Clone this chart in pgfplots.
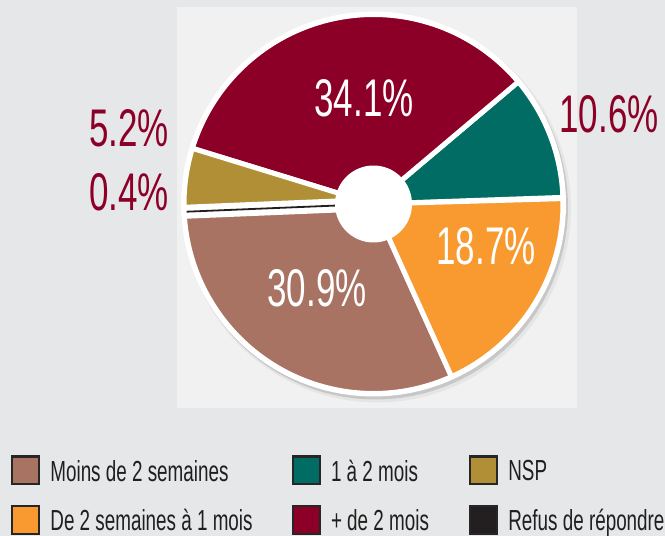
\documentclass[border=0pt]{standalone}
\usepackage{pgfplots}
\pgfplotsset{compat=1.18}
\usepackage{pgfplotstable}
\usepackage{fontspec}
\setmainfont{Liberation Sans}
\newfontfamily\numfont{Liberation Sans}[FakeStretch=0.66]
\newfontfamily\legfont{Liberation Sans}[FakeStretch=0.65]

\definecolor{cbg}{HTML}{E6E7E8}
\definecolor{cpanel}{HTML}{F1F1F2}
\definecolor{cbrown}{HTML}{A87363}
\definecolor{corange}{HTML}{F89A2F}
\definecolor{cteal}{HTML}{006C63}
\definecolor{cred}{HTML}{8C0028}
\definecolor{cgold}{HTML}{B08F36}
\definecolor{cblack}{HTML}{231F20}

% shares in percent, counter-clockwise from the right
\pgfplotstableread[col sep=comma]{
name,value,col
1 à 2 mois,10.6,cteal
+ de 2 mois,34.1,cred
NSP,5.2,cgold
Refus de répondre,0.4,cblack
Moins de 2 semaines,30.9,cbrown
De 2 semaines à 1 mois,18.7,corange
}\piedata

\def\cx{373.5}
\def\cy{332}
\def\pieoff{2}

\begin{document}
\begin{tikzpicture}
\begin{axis}[
  scale only axis, width=665pt, height=536pt,
  xmin=0, xmax=665, ymin=0, ymax=536,
  hide axis, clip=false,
  legend image code/.code={\draw[#1, draw=black!85, line width=2.4pt] (1.2pt,-13.8pt) rectangle (28.2pt,13.8pt);},
  legend columns=3,
  legend cell align=left,
  legend style={draw=none, fill=none, at={(axis cs:11,80.5)}, anchor=north west,
    inner sep=0pt, outer sep=0pt, row sep=19.5pt, column sep=0pt,
    nodes={inner sep=0pt, text depth=0pt, font=\legfont\fontsize{29}{31}\selectfont, text=black!88},
    /tikz/every odd column/.style={column sep=10pt},
    /tikz/column 2/.style={column sep=39pt},
    /tikz/column 4/.style={column sep=40pt}},
]
% backgrounds
\fill[cbg] (axis cs:0,0) rectangle (axis cs:665,536);
\fill[cpanel] (axis cs:177,128) rectangle (axis cs:577,529);

% shadow and white rim
\addplot[forget plot, fill=black!10, draw=none, domain=0:360, samples=120] ({\cx+3.5+194*cos(x)},{\cy-4.5+194*sin(x)}) -- cycle;
\addplot[forget plot, fill=black!22, draw=none, domain=0:360, samples=120] ({\cx+2+192.5*cos(x)},{\cy-3+192.5*sin(x)}) -- cycle;
\addplot[forget plot, fill=white, draw=none, domain=0:360, samples=120] ({\cx+192.5*cos(x)},{\cy+192.5*sin(x)}) -- cycle;

% slices
\def\cum{0}
\pgfplotsforeachungrouped \i in {0,...,5}{%
  \pgfplotstablegetelem{\i}{value}\of\piedata
  \pgfmathsetmacro\va{\pieoff+3.6*\cum}%
  \pgfmathsetmacro\cum{\cum+\pgfplotsretval}%
  \pgfmathsetmacro\vb{\pieoff+3.6*\cum}%
  \ifnum\i=3 \pgfmathsetmacro\blackmid{(\va+\vb)/2}\global\let\blackmid\blackmid\fi
  \pgfplotstablegetelem{\i}{col}\of\piedata
  \edef\doslice{\noexpand\addplot[forget plot, fill=\pgfplotsretval, draw=white, line width=5pt, line join=round, domain=\va:\vb, samples=80] ({\cx+189.5*cos(x)},{\cy+189.5*sin(x)}) -- (axis cs:\cx,\cy) -- cycle;}%
  \doslice
}
% the very thin slice (0.4 %) drawn as a line in a white gap
\pgfmathsetmacro\lxa{\cx+189*cos(\blackmid)}
\pgfmathsetmacro\lya{\cy+189*sin(\blackmid)}
\pgfmathsetmacro\lxb{\cx+187*cos(\blackmid)}
\pgfmathsetmacro\lyb{\cy+187*sin(\blackmid)}
\edef\doline{\noexpand\addplot[forget plot, white, line width=14pt] coordinates {(\cx,\cy) (\lxa,\lya)};
\noexpand\addplot[forget plot, cblack, line width=1.8pt] coordinates {(\cx,\cy) (\lxb,\lyb)};}
\doline

% centre hole
\addplot[forget plot, fill=white, draw=none, domain=0:360, samples=90] ({\cx+38.5*cos(x)},{\cy+38.5*sin(x)}) -- cycle;

% labels
\begin{scope}[every node/.style={font=\numfont\fontsize{53}{60}\selectfont, anchor=base, inner sep=0pt}]
\node[text=white] at (axis cs:364,419) {34.1\%};
\node[text=white] at (axis cs:486,271) {18.7\%};
\node[text=white] at (axis cs:317,229) {30.9\%};
\node[text=cred] at (axis cs:609,403) {10.6\%};
\node[text=cred] at (axis cs:129,389) {5.2\%};
\node[text=cred] at (axis cs:129,325) {0.4\%};
\end{scope}

% legend
\addlegendimage{fill=cbrown}
\addlegendentry{Moins de 2 semaines}
\addlegendimage{fill=cteal}
\addlegendentry{1 à 2 mois}
\addlegendimage{fill=cgold}
\addlegendentry{NSP}
\addlegendimage{fill=corange}
\addlegendentry{De 2 semaines à 1 mois}
\addlegendimage{fill=cred}
\addlegendentry{+ de 2 mois}
\addlegendimage{fill=cblack}
\addlegendentry{Refus de répondre}
\end{axis}
\end{tikzpicture}
\end{document}
